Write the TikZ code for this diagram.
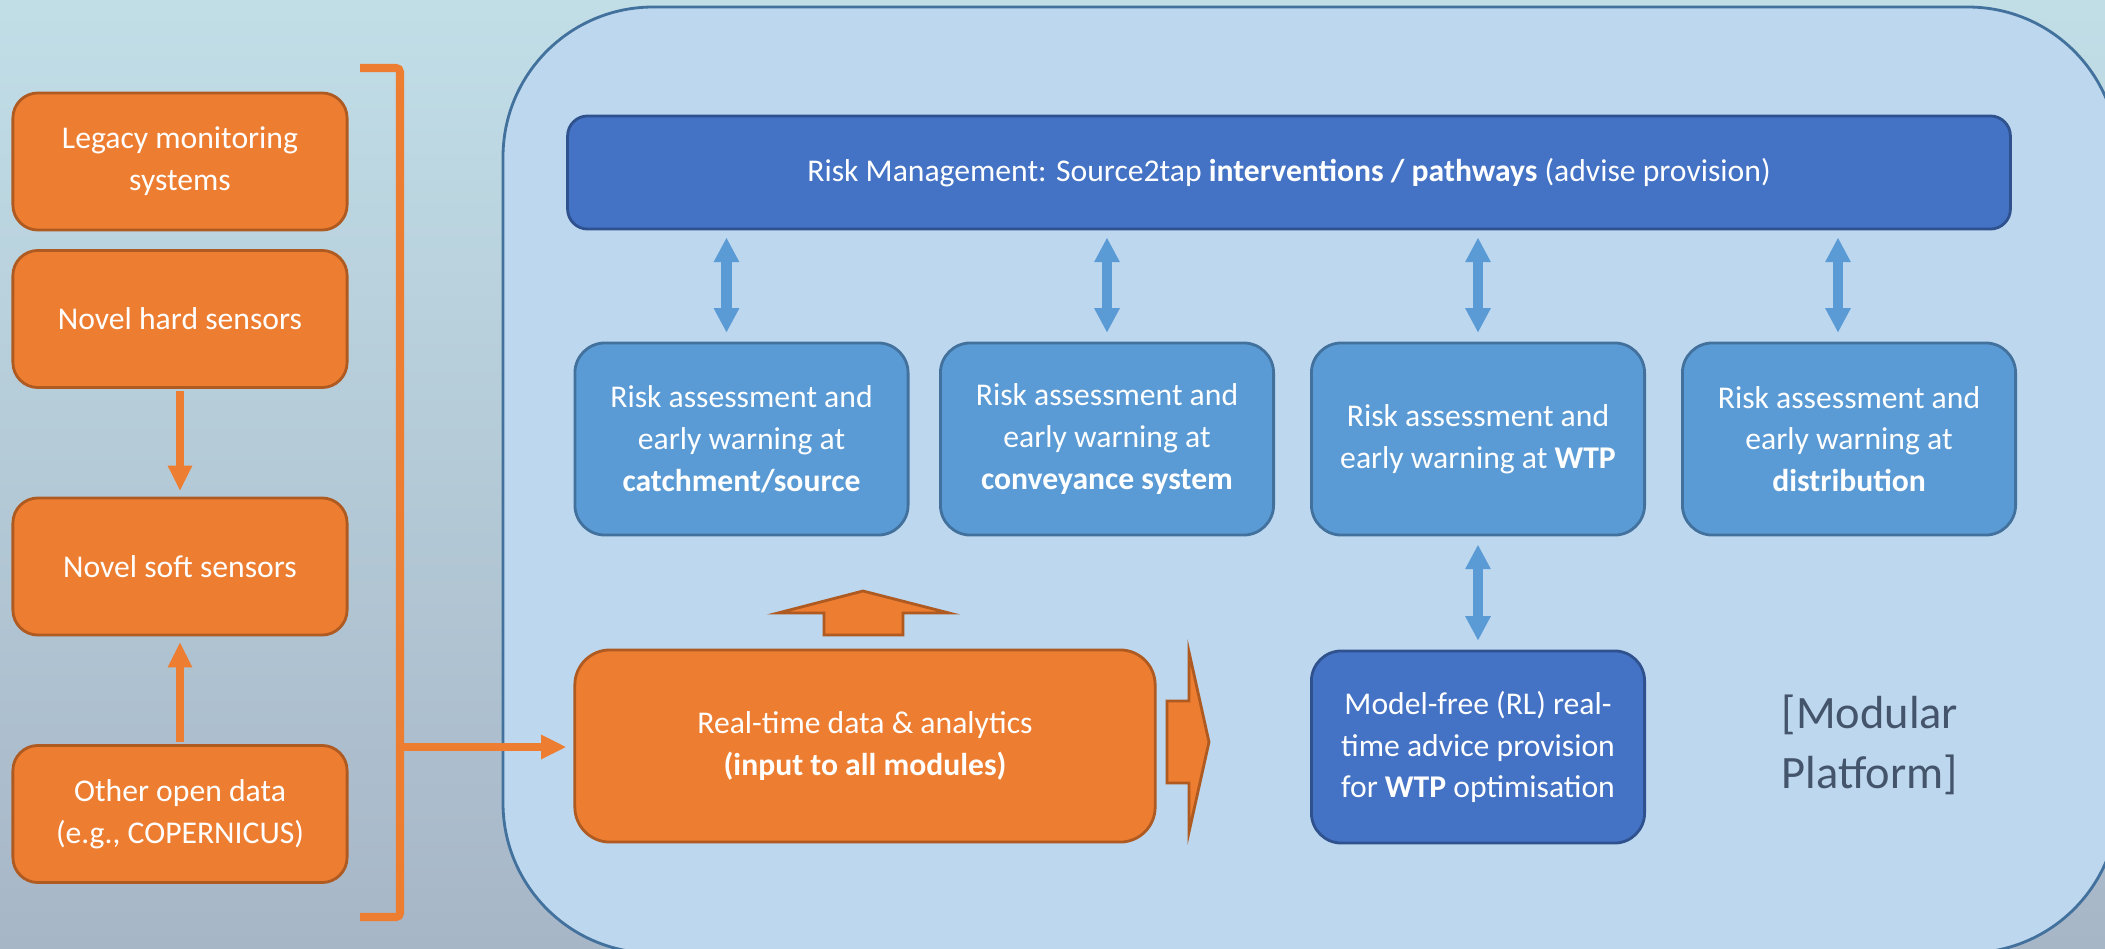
\documentclass[tikz,border=0pt]{standalone}
\usepackage{fontspec}
\setmainfont{Carlito}
\usetikzlibrary{arrows.meta}

\definecolor{bgtop}{RGB}{193,222,231}
\definecolor{bgbot}{RGB}{167,182,199}
\definecolor{orfill}{HTML}{ED7D31}
\definecolor{ordraw}{HTML}{AE5A21}
\definecolor{bluefill}{HTML}{5B9BD5}
\definecolor{bluedraw}{HTML}{41719C}
\definecolor{darkfill}{HTML}{4472C4}
\definecolor{darkdraw}{HTML}{2F528F}
\definecolor{platfill}{HTML}{BDD7EE}
\definecolor{plattext}{HTML}{44546A}

\tikzset{
  boxfont/.style={text=white, align=center, font=\fontsize{9}{11.9}\selectfont},
  sensor/.style={boxfont, draw=ordraw, fill=orfill, line width=0.8pt, rounded corners=0.25cm,
    minimum width=3.34cm, minimum height=1.37cm, inner sep=0pt},
  riskbox/.style={boxfont, draw=bluedraw, fill=bluefill, line width=0.8pt, rounded corners=0.3cm,
    minimum width=3.33cm, minimum height=1.92cm, inner sep=0pt},
  mgmtbar/.style={boxfont, draw=darkdraw, fill=darkfill, line width=0.8pt, rounded corners=0.2cm,
    minimum width=14.42cm, minimum height=1.13cm, inner sep=0pt},
  optbox/.style={riskbox, draw=darkdraw, fill=darkfill},
  databox/.style={sensor, rounded corners=0.35cm, minimum width=5.8cm, minimum height=1.92cm},
  platform/.style={draw=bluedraw, fill=platfill, line width=0.8pt, rounded corners=1.5cm},
  plattxt/.style={text=plattext, align=left, font=\fontsize{13.2}{17}\selectfont},
  biarrow/.style={draw=bluefill, line width=2.85pt,
    {Triangle[width=6.8pt,length=7pt]}-{Triangle[width=6.8pt,length=7pt]}},
  feed/.style={draw=orfill, line width=2.3pt, -{Triangle[width=6.5pt,length=7.2pt]}},
  bracket/.style={draw=orfill, line width=2.3pt, rounded corners=0.04cm},
  blockarrow/.style={draw=ordraw, fill=orfill, line width=0.8pt, line join=miter}
}

\begin{document}
\begin{tikzpicture}[x=0.01cm,y=-0.01cm]
  \useasboundingbox (0,0) rectangle (2105,948);
  \clip (0,0) rectangle (2105,948);
  \shade[top color=bgtop, bottom color=bgbot] (0,0) rectangle (2105,948);

  % modular platform
  \draw[platform] (503,7) rectangle (2118,953);

  % data sources
  \node[sensor] (legacy) at (180,161.5) {Legacy monitoring\\systems};
  \node[sensor] (hard) at (180,319) {Novel hard sensors};
  \node[sensor] (soft) at (180,566.5) {Novel soft sensors};
  \node[sensor] (open) at (180,814) {Other open data\\(e.g., COPERNICUS)};

  \draw[feed, shorten <=0.6pt, shorten >=1.6pt] (hard) -- (soft);
  \draw[feed, shorten <=0.6pt, shorten >=1.6pt] (open) -- (soft);

  % bracket collecting all sources
  \draw[bracket] (360,68) -- (400,68) -- (400,917) -- (360,917);
  \coordinate (brk) at (400,747);

  % platform modules
  \node[mgmtbar] (mgmt) at (1289,172.5)
    {Risk Management: Source2tap \textbf{interventions / pathways} (advise provision)};

  \node[riskbox] (catch) at (741.5,439) {Risk assessment and\\early warning at\\\textbf{catchment/source}};
  \node[riskbox] (convey) at (1107,439) {Risk assessment and\\early warning at\\\textbf{conveyance system}};
  \node[riskbox] (wtp) at (1478,439) {Risk assessment and\\early warning at \textbf{WTP}};
  \node[riskbox] (distr) at (1849,439) {Risk assessment and\\early warning at\\\textbf{distribution}};

  \node[optbox] (rl) at (1478,747) {Model-free (RL) real-\\time advice provision\\for \textbf{WTP} optimisation};
  \node[databox] (rtdata) at (865,746) {Real-time data \& analytics\\\textbf{(input to all modules)}};

  \node[plattxt] (modular) at (1870,745) {[Modular\\Platform]};

  \draw[biarrow, shorten <=2.5pt, shorten >=2pt] ([xshift=-0.15cm]catch.north) -- ([xshift=-0.15cm]catch.north |- mgmt.south);
  \draw[biarrow, shorten <=2.5pt, shorten >=2pt] (convey.north) -- (convey.north |- mgmt.south);
  \draw[biarrow, shorten <=2.5pt, shorten >=2pt] (wtp.north) -- (wtp.north |- mgmt.south);
  \draw[biarrow, shorten <=2.5pt, shorten >=2pt] ([xshift=-0.11cm]distr.north) -- ([xshift=-0.11cm]distr.north |- mgmt.south);
  \draw[biarrow, shorten <=2.5pt, shorten >=2.3pt] (rl.north) -- (wtp.south);

  \draw[feed, shorten >=2pt] (brk) -- (rtdata.west |- brk);

  % block arrows out of the data module
  \draw[blockarrow] (824,635) -- (824,613) -- (778,613) -- (863,591) -- (949,613) -- (903,613) -- (903,635) -- cycle;
  \draw[blockarrow] (1167,701) -- (1189,701) -- (1189,652) -- (1209,742) -- (1189,832) -- (1189,783) -- (1167,783) -- cycle;
\end{tikzpicture}
\end{document}
